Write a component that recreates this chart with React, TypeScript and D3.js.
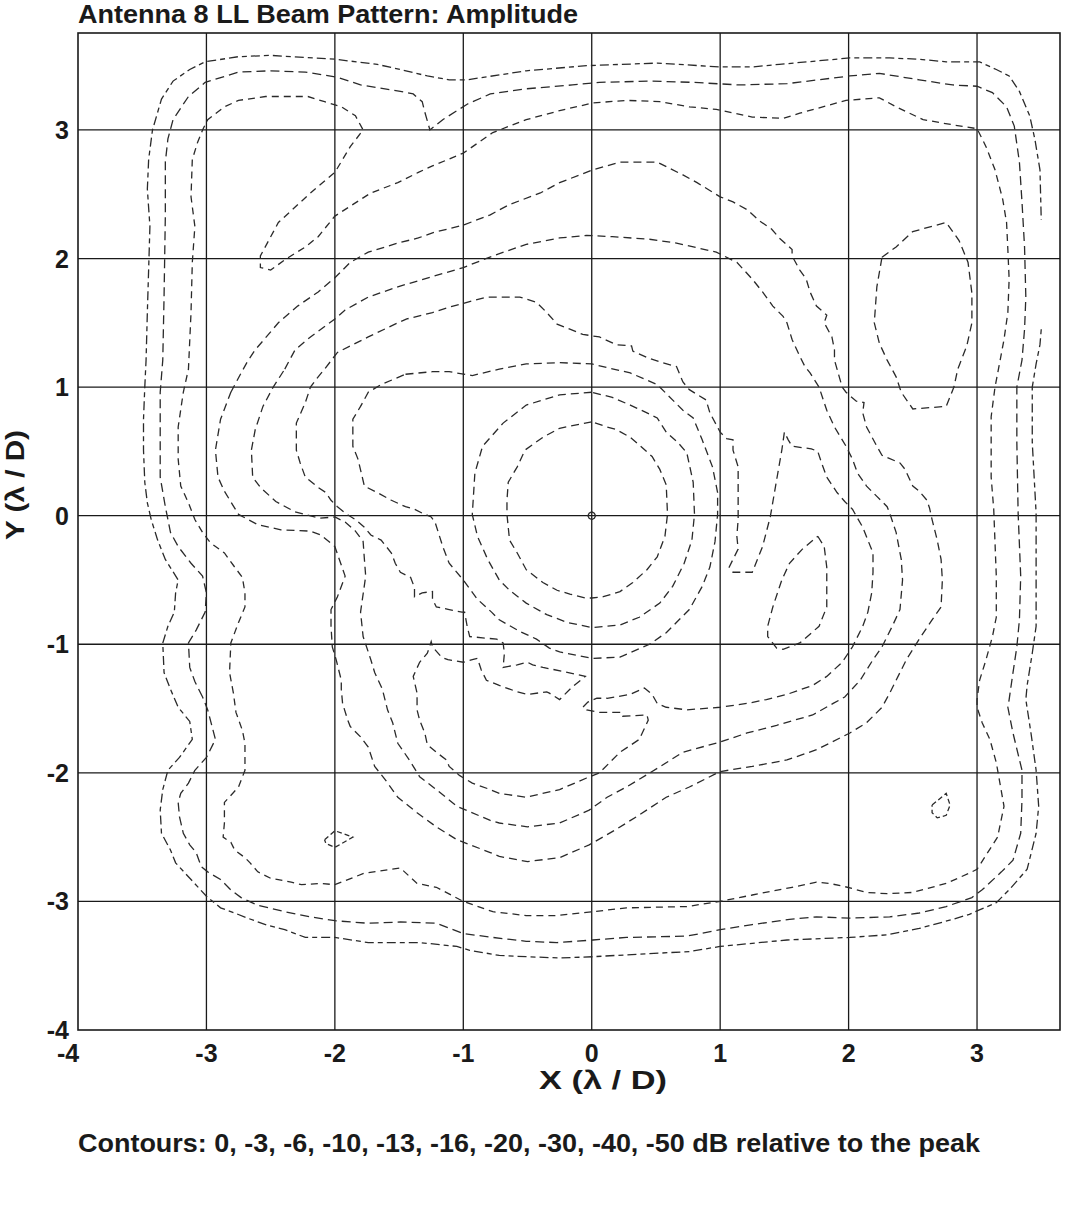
import { useEffect, useRef } from 'react';
import * as d3 from 'd3';

type Pt = [number, number];

const TITLE = 'Antenna 8 LL Beam Pattern: Amplitude';
const CAPTION = 'Contours: 0, -3, -6, -10, -13, -16, -20, -30, -40, -50 dB relative to the peak';
const X_TICKS = [-4, -3, -2, -1, 0, 1, 2, 3];
const Y_TICKS = [-4, -3, -2, -1, 0, 1, 2, 3];
const X_DOMAIN: Pt = [-4, 3.646];
const Y_DOMAIN: Pt = [-4, 3.754];

// contour lines, in lambda/D units
const peak0: Pt[] = [[0.03, 0], [0.02, 0.02], [0, 0.03], [-0.02, 0.02], [-0.03, 0], [-0.02, -0.02], [0, -0.03], [0.02, -0.02]];

const ring3: Pt[] = [[0.00, 0.73], [-0.25, 0.68], [-0.38, 0.61], [-0.52, 0.51], [-0.58, 0.38], [-0.65, 0.26], [-0.66, 0.12], [-0.66, 0.01], [-0.64, -0.19], [-0.58, -0.29], [-0.51, -0.42], [-0.38, -0.52], [-0.27, -0.58], [-0.17, -0.61], [-0.05, -0.64], [0.00, -0.64], [0.09, -0.63], [0.22, -0.59], [0.32, -0.52], [0.43, -0.42], [0.51, -0.32], [0.57, -0.16], [0.59, 0.01], [0.58, 0.24], [0.53, 0.36], [0.47, 0.46], [0.37, 0.55], [0.30, 0.61], [0.19, 0.67], [0.12, 0.69]];

const ring6: Pt[] = [[0.00, 0.96], [-0.25, 0.94], [-0.51, 0.86], [-0.69, 0.72], [-0.85, 0.54], [-0.91, 0.33], [-0.93, 0.01], [-0.89, -0.16], [-0.81, -0.34], [-0.72, -0.50], [-0.64, -0.58], [-0.51, -0.68], [-0.35, -0.77], [-0.19, -0.83], [0.00, -0.87], [0.22, -0.85], [0.37, -0.79], [0.53, -0.68], [0.63, -0.55], [0.72, -0.37], [0.78, -0.19], [0.80, 0.01], [0.79, 0.26], [0.74, 0.49], [0.67, 0.57], [0.58, 0.65], [0.51, 0.76], [0.43, 0.80], [0.30, 0.86], [0.16, 0.92]];

const ring10: Pt[] = [[-1.45, 1.10], [-1.24, 1.12], [-1.11, 1.12], [-0.93, 1.09], [-0.72, 1.14], [-0.51, 1.18], [-0.25, 1.19], [0.00, 1.18], [0.30, 1.11], [0.51, 1.02], [0.71, 0.82], [0.79, 0.76], [0.86, 0.59], [0.94, 0.38], [0.98, 0.18], [0.98, 0.01], [0.96, -0.20], [0.92, -0.40], [0.86, -0.55], [0.76, -0.73], [0.68, -0.81], [0.58, -0.91], [0.45, -1.00], [0.22, -1.10], [0.01, -1.11], [-0.25, -1.06], [-0.33, -1.03], [-0.43, -0.96], [-0.56, -0.90], [-0.72, -0.81], [-0.78, -0.75], [-0.89, -0.65], [-1.00, -0.50], [-1.11, -0.37], [-1.16, -0.24], [-1.22, -0.05], [-1.25, -0.01], [-1.32, 0.02], [-1.38, 0.05], [-1.45, 0.07], [-1.56, 0.12], [-1.67, 0.18], [-1.77, 0.23], [-1.82, 0.44], [-1.86, 0.54], [-1.86, 0.75], [-1.80, 0.85], [-1.74, 0.96], [-1.64, 1.02]];

const island10: Pt[] = [[1.76, -0.16], [1.81, -0.24], [1.83, -0.40], [1.83, -0.71], [1.77, -0.86], [1.62, -0.99], [1.49, -1.04], [1.44, -1.03], [1.37, -0.94], [1.37, -0.86], [1.41, -0.71], [1.48, -0.50], [1.54, -0.37], [1.64, -0.26]];

const ring13: Pt[] = [[-1.98, 0.07], [-1.92, 0.02], [-1.84, -0.03], [-1.77, -0.09], [-1.72, -0.15], [-1.64, -0.19], [-1.56, -0.29], [-1.53, -0.37], [-1.49, -0.44], [-1.41, -0.48], [-1.38, -0.56], [-1.38, -0.63], [-1.32, -0.60], [-1.24, -0.59], [-1.24, -0.65], [-1.21, -0.71], [-1.11, -0.73], [-1.01, -0.75], [-0.99, -0.75], [-0.97, -0.86], [-0.95, -0.94], [-0.85, -0.95], [-0.74, -0.96], [-0.69, -0.99], [-0.68, -1.07], [-0.69, -1.18], [-0.58, -1.16], [-0.50, -1.14], [-0.46, -1.16], [-0.38, -1.18], [-0.23, -1.21], [-0.05, -1.25], [-0.15, -1.33], [-0.25, -1.43], [-0.33, -1.38], [-0.35, -1.37], [-0.50, -1.39], [-0.58, -1.37], [-0.72, -1.32], [-0.82, -1.28], [-0.86, -1.20], [-0.89, -1.11], [-0.93, -1.12], [-1.00, -1.14], [-1.12, -1.12], [-1.17, -1.10], [-1.24, -1.02], [-1.25, -0.98], [-1.28, -1.07], [-1.34, -1.14], [-1.39, -1.25], [-1.36, -1.38], [-1.36, -1.51], [-1.34, -1.59], [-1.30, -1.69], [-1.28, -1.78], [-1.21, -1.84], [-1.13, -1.90], [-1.11, -1.95], [-1.03, -2.02], [-0.93, -2.08], [-0.79, -2.13], [-0.72, -2.16], [-0.51, -2.19], [-0.25, -2.13], [-0.04, -2.04], [0.06, -2.00], [0.22, -1.84], [0.37, -1.74], [0.44, -1.59], [0.43, -1.55], [0.24, -1.56], [0.23, -1.53], [0.06, -1.53], [-0.04, -1.51], [-0.07, -1.49], [-0.03, -1.45], [0.04, -1.42], [0.12, -1.42], [0.30, -1.39], [0.41, -1.34], [0.47, -1.39], [0.51, -1.46], [0.58, -1.49], [0.74, -1.51], [1.00, -1.49], [1.21, -1.46], [1.36, -1.43], [1.52, -1.39], [1.72, -1.32], [1.83, -1.25], [1.95, -1.14], [2.03, -1.02], [2.11, -0.86], [2.15, -0.75], [2.18, -0.60], [2.19, -0.44], [2.19, -0.29], [2.15, -0.19], [2.11, -0.09], [2.03, 0.05], [1.97, 0.11], [1.91, 0.18], [1.83, 0.30], [1.79, 0.41], [1.76, 0.50], [1.71, 0.52], [1.56, 0.54], [1.53, 0.59], [1.50, 0.65], [1.48, 0.51], [1.44, 0.28], [1.39, -0.01], [1.33, -0.24], [1.25, -0.44], [1.10, -0.44], [1.07, -0.40], [1.14, -0.26], [1.13, -0.16], [1.14, -0.03], [1.14, 0.07], [1.14, 0.38], [1.10, 0.51], [1.10, 0.59], [1.05, 0.60], [1.00, 0.65], [0.92, 0.80], [0.89, 0.90], [0.76, 0.98], [0.71, 1.04], [0.66, 1.16], [0.55, 1.19], [0.43, 1.23], [0.32, 1.28], [0.31, 1.32], [0.19, 1.33], [0.06, 1.39], [-0.07, 1.41], [-0.27, 1.49], [-0.35, 1.58], [-0.43, 1.66], [-0.56, 1.70], [-0.82, 1.70], [-1.08, 1.63], [-1.24, 1.58], [-1.44, 1.53], [-1.51, 1.50], [-1.74, 1.39], [-1.98, 1.27], [-2.08, 1.14], [-2.13, 1.08], [-2.19, 1.00], [-2.23, 0.88], [-2.30, 0.72], [-2.30, 0.51], [-2.27, 0.41], [-2.23, 0.30], [-2.13, 0.22], [-2.07, 0.18], [-2.03, 0.12]];

const ring16: Pt[] = [[-2.39, 1.14], [-2.31, 1.29], [-2.19, 1.39], [-2.00, 1.53], [-1.92, 1.60], [-1.74, 1.70], [-1.51, 1.78], [-1.24, 1.86], [-1.00, 1.93], [-0.77, 2.02], [-0.51, 2.11], [-0.25, 2.16], [-0.04, 2.18], [0.16, 2.17], [0.45, 2.15], [0.66, 2.12], [0.97, 2.05], [1.13, 1.97], [1.25, 1.84], [1.33, 1.74], [1.41, 1.63], [1.49, 1.55], [1.52, 1.50], [1.56, 1.37], [1.62, 1.24], [1.66, 1.16], [1.70, 1.11], [1.77, 1.00], [1.83, 0.82], [1.89, 0.69], [1.98, 0.54], [2.03, 0.44], [2.07, 0.33], [2.14, 0.23], [2.22, 0.15], [2.30, 0.07], [2.32, 0.02], [2.37, -0.13], [2.41, -0.34], [2.42, -0.50], [2.40, -0.73], [2.34, -0.86], [2.26, -1.02], [2.19, -1.12], [2.09, -1.28], [1.97, -1.41], [1.88, -1.46], [1.72, -1.55], [1.44, -1.63], [1.21, -1.69], [1.00, -1.76], [0.71, -1.84], [0.47, -1.99], [0.27, -2.11], [0.12, -2.19], [-0.02, -2.29], [-0.25, -2.39], [-0.50, -2.42], [-0.72, -2.39], [-0.79, -2.37], [-1.05, -2.26], [-1.21, -2.13], [-1.34, -2.03], [-1.42, -1.90], [-1.51, -1.77], [-1.55, -1.61], [-1.59, -1.51], [-1.63, -1.35], [-1.69, -1.22], [-1.72, -1.12], [-1.78, -0.94], [-1.80, -0.75], [-1.76, -0.47], [-1.77, -0.34], [-1.78, -0.20], [-1.84, -0.12], [-1.92, -0.05], [-2.00, -0.01], [-2.12, -0.02], [-2.23, 0.01], [-2.31, 0.03], [-2.46, 0.11], [-2.58, 0.22], [-2.64, 0.30], [-2.65, 0.51], [-2.62, 0.67], [-2.56, 0.85], [-2.48, 1.00]];

const ring20: Pt[] = [[-2.81, 0.96], [-2.73, 1.11], [-2.68, 1.20], [-2.62, 1.29], [-2.44, 1.50], [-2.29, 1.63], [-2.13, 1.74], [-2.00, 1.85], [-1.88, 1.97], [-1.74, 2.05], [-1.51, 2.12], [-1.35, 2.16], [-1.24, 2.20], [-1.00, 2.26], [-0.79, 2.34], [-0.64, 2.42], [-0.40, 2.51], [-0.25, 2.59], [0.01, 2.69], [0.22, 2.75], [0.51, 2.75], [0.71, 2.65], [0.82, 2.59], [1.00, 2.48], [1.10, 2.44], [1.21, 2.38], [1.31, 2.29], [1.40, 2.23], [1.46, 2.16], [1.56, 2.07], [1.56, 2.02], [1.62, 1.91], [1.67, 1.84], [1.70, 1.74], [1.75, 1.63], [1.83, 1.56], [1.81, 1.50], [1.87, 1.39], [1.89, 1.29], [1.89, 1.21], [1.95, 1.00], [1.98, 0.96], [2.06, 0.89], [2.12, 0.88], [2.11, 0.80], [2.14, 0.69], [2.22, 0.54], [2.26, 0.47], [2.40, 0.41], [2.44, 0.36], [2.50, 0.23], [2.55, 0.19], [2.61, 0.12], [2.63, 0.06], [2.65, -0.03], [2.69, -0.19], [2.72, -0.34], [2.73, -0.50], [2.72, -0.71], [2.65, -0.81], [2.55, -0.96], [2.45, -1.12], [2.37, -1.28], [2.32, -1.38], [2.26, -1.49], [2.14, -1.61], [2.01, -1.69], [1.75, -1.82], [1.52, -1.90], [1.25, -1.95], [1.00, -1.99], [0.76, -2.11], [0.58, -2.19], [0.35, -2.34], [0.19, -2.44], [-0.02, -2.56], [-0.25, -2.66], [-0.50, -2.69], [-0.72, -2.65], [-0.79, -2.62], [-1.05, -2.52], [-1.21, -2.42], [-1.36, -2.31], [-1.41, -2.27], [-1.51, -2.19], [-1.61, -2.05], [-1.69, -1.95], [-1.74, -1.80], [-1.80, -1.72], [-1.88, -1.64], [-1.90, -1.59], [-1.94, -1.46], [-1.95, -1.35], [-1.95, -1.28], [-1.99, -1.12], [-2.02, -1.02], [-2.03, -0.86], [-2.03, -0.73], [-1.98, -0.63], [-1.92, -0.47], [-2.00, -0.24], [-2.11, -0.15], [-2.19, -0.12], [-2.42, -0.11], [-2.60, -0.07], [-2.75, 0.01], [-2.86, 0.19], [-2.91, 0.30], [-2.93, 0.51], [-2.89, 0.75]];

const island20: Pt[] = [[2.26, 2.01], [2.37, 2.09], [2.50, 2.21], [2.76, 2.28], [2.86, 2.14], [2.93, 1.97], [2.96, 1.73], [2.96, 1.50], [2.92, 1.32], [2.85, 1.14], [2.82, 1.00], [2.76, 0.85], [2.50, 0.83], [2.41, 0.96], [2.37, 1.08], [2.30, 1.21], [2.24, 1.34], [2.20, 1.50], [2.22, 1.78]];

const ring30: Pt[] = [[-2.79, -1.38], [-2.82, -1.22], [-2.81, -0.99], [-2.75, -0.83], [-2.70, -0.71], [-2.70, -0.60], [-2.72, -0.48], [-2.78, -0.40], [-2.86, -0.29], [-2.97, -0.21], [-3.03, -0.13], [-3.09, -0.03], [-3.14, 0.10], [-3.20, 0.23], [-3.22, 0.44], [-3.22, 0.69], [-3.18, 0.96], [-3.14, 1.14], [-3.12, 1.58], [-3.11, 1.97], [-3.09, 2.25], [-3.12, 2.48], [-3.11, 2.77], [-3.07, 2.90], [-3.03, 3.00], [-2.99, 3.08], [-2.86, 3.18], [-2.75, 3.23], [-2.54, 3.26], [-2.21, 3.26], [-2.08, 3.22], [-1.95, 3.18], [-1.84, 3.11], [-1.78, 3.00], [-1.88, 2.87], [-2.00, 2.67], [-2.19, 2.51], [-2.44, 2.28], [-2.58, 2.02], [-2.58, 1.93], [-2.50, 1.91], [-2.39, 1.99], [-2.23, 2.09], [-2.13, 2.17], [-2.00, 2.33], [-1.72, 2.51], [-1.51, 2.59], [-1.35, 2.67], [-1.24, 2.72], [-1.00, 2.82], [-0.77, 2.98], [-0.51, 3.08], [-0.25, 3.15], [0.01, 3.21], [0.27, 3.23], [0.53, 3.22], [0.76, 3.18], [0.97, 3.16], [1.25, 3.10], [1.49, 3.09], [1.62, 3.13], [1.98, 3.23], [2.24, 3.25], [2.37, 3.18], [2.58, 3.08], [2.81, 3.04], [3.00, 3.01], [3.07, 2.87], [3.14, 2.69], [3.20, 2.46], [3.23, 2.28], [3.24, 2.07], [3.25, 1.84], [3.24, 1.58], [3.21, 1.37], [3.18, 1.21], [3.14, 1.00], [3.11, 0.77], [3.11, 0.30], [3.13, 0.05], [3.14, -0.21], [3.15, -0.47], [3.15, -0.79], [3.12, -0.94], [3.07, -1.12], [3.02, -1.28], [3.00, -1.43], [3.00, -1.49], [3.04, -1.61], [3.10, -1.74], [3.15, -1.92], [3.21, -2.26], [3.16, -2.50], [3.00, -2.75], [2.94, -2.78], [2.76, -2.86], [2.50, -2.93], [2.30, -2.94], [2.14, -2.93], [2.03, -2.90], [1.95, -2.88], [1.85, -2.86], [1.75, -2.85], [1.56, -2.89], [1.25, -2.95], [1.00, -3.00], [0.74, -3.04], [0.27, -3.05], [0.01, -3.08], [-0.27, -3.11], [-0.51, -3.11], [-0.77, -3.08], [-1.00, -3.00], [-1.21, -2.89], [-1.36, -2.86], [-1.49, -2.74], [-1.77, -2.78], [-2.00, -2.87], [-2.11, -2.86], [-2.26, -2.87], [-2.34, -2.85], [-2.50, -2.82], [-2.60, -2.77], [-2.66, -2.70], [-2.70, -2.66], [-2.78, -2.60], [-2.81, -2.54], [-2.87, -2.50], [-2.86, -2.39], [-2.86, -2.23], [-2.75, -2.11], [-2.70, -1.98], [-2.70, -1.77], [-2.72, -1.67], [-2.77, -1.53]];

const islandSW: Pt[] = [[-2.08, -2.52], [-2.00, -2.45], [-1.86, -2.50], [-2.00, -2.58], [-2.07, -2.55]];
const islandSE: Pt[] = [[2.65, -2.25], [2.76, -2.16], [2.79, -2.25], [2.76, -2.33], [2.69, -2.35], [2.65, -2.31]];

const ring40: Pt[] = [[-3.03, -1.41], [-3.09, -1.29], [-3.13, -1.18], [-3.14, -0.99], [-3.08, -0.89], [-3.01, -0.75], [-3.00, -0.60], [-3.03, -0.47], [-3.12, -0.37], [-3.22, -0.24], [-3.28, -0.13], [-3.32, 0.07], [-3.36, 0.30], [-3.36, 0.96], [-3.34, 1.21], [-3.33, 1.70], [-3.32, 2.33], [-3.32, 2.75], [-3.30, 2.93], [-3.26, 3.08], [-3.14, 3.26], [-3.01, 3.37], [-2.75, 3.45], [-2.50, 3.46], [-2.23, 3.45], [-1.98, 3.41], [-1.80, 3.35], [-1.49, 3.30], [-1.39, 3.28], [-1.32, 3.22], [-1.30, 3.14], [-1.26, 3.00], [-1.16, 3.08], [-0.97, 3.20], [-0.79, 3.28], [-0.51, 3.32], [-0.15, 3.35], [0.06, 3.37], [0.45, 3.38], [0.79, 3.37], [1.15, 3.35], [1.52, 3.36], [2.01, 3.42], [2.24, 3.44], [2.55, 3.39], [2.81, 3.35], [3.00, 3.34], [3.12, 3.29], [3.23, 3.18], [3.29, 3.03], [3.33, 2.75], [3.35, 2.44], [3.37, 2.09], [3.38, 1.70], [3.37, 1.45], [3.35, 1.21], [3.31, 1.00], [3.31, 0.57], [3.32, 0.02], [3.34, -0.47], [3.33, -0.81], [3.31, -1.02], [3.28, -1.22], [3.25, -1.43], [3.24, -1.49], [3.28, -1.69], [3.35, -1.98], [3.35, -2.21], [3.34, -2.47], [3.28, -2.68], [3.19, -2.77], [3.04, -2.91], [2.96, -2.97], [2.76, -3.04], [2.55, -3.09], [2.32, -3.12], [2.01, -3.13], [1.75, -3.12], [1.54, -3.14], [1.25, -3.18], [1.00, -3.22], [0.74, -3.27], [0.27, -3.28], [0.01, -3.30], [-0.27, -3.32], [-0.51, -3.31], [-0.77, -3.28], [-1.00, -3.25], [-1.21, -3.17], [-1.49, -3.16], [-1.74, -3.17], [-2.00, -3.15], [-2.19, -3.12], [-2.39, -3.08], [-2.60, -3.03], [-2.73, -2.97], [-2.81, -2.91], [-2.89, -2.83], [-2.99, -2.77], [-3.04, -2.73], [-3.08, -2.62], [-3.13, -2.56], [-3.18, -2.47], [-3.21, -2.34], [-3.22, -2.23], [-3.20, -2.16], [-3.14, -2.08], [-3.09, -1.98], [-3.00, -1.88], [-2.93, -1.74], [-2.99, -1.51]];

// -50 dB runs off the right edge of the measured grid, so it stays open
const edge50: Pt[] = [[3.50, 1.45], [3.49, 1.33], [3.46, 1.18], [3.43, 1.00], [3.43, 0.57], [3.46, 0.02], [3.46, -0.47], [3.46, -0.86], [3.43, -1.07], [3.39, -1.32], [3.38, -1.43], [3.42, -1.69], [3.46, -1.98], [3.48, -2.26], [3.46, -2.47], [3.39, -2.75], [3.25, -2.91], [3.15, -3.01], [2.94, -3.10], [2.81, -3.14], [2.55, -3.21], [2.30, -3.26], [2.01, -3.28], [1.52, -3.30], [1.00, -3.35], [0.76, -3.39], [0.19, -3.42], [0.01, -3.43], [-0.25, -3.44], [-0.51, -3.43], [-0.72, -3.42], [-0.95, -3.38], [-1.05, -3.35], [-1.34, -3.32], [-1.49, -3.32], [-1.74, -3.32], [-2.00, -3.28], [-2.23, -3.28], [-2.39, -3.22], [-2.54, -3.18], [-2.68, -3.13], [-2.78, -3.09], [-2.89, -3.05], [-3.00, -2.96], [-3.12, -2.83], [-3.24, -2.70], [-3.28, -2.60], [-3.35, -2.47], [-3.36, -2.29], [-3.34, -2.13], [-3.30, -1.98], [-3.21, -1.88], [-3.11, -1.74], [-3.13, -1.60], [-3.22, -1.49], [-3.28, -1.35], [-3.33, -1.22], [-3.34, -0.99], [-3.30, -0.86], [-3.25, -0.75], [-3.24, -0.60], [-3.22, -0.50], [-3.32, -0.34], [-3.38, -0.19], [-3.43, -0.03], [-3.46, 0.10], [-3.48, 0.26], [-3.49, 0.51], [-3.49, 0.75], [-3.48, 1.00], [-3.47, 1.21], [-3.46, 1.58], [-3.44, 2.25], [-3.46, 2.54], [-3.45, 2.77], [-3.42, 3.00], [-3.35, 3.24], [-3.26, 3.38], [-3.13, 3.47], [-3.01, 3.53], [-2.75, 3.57], [-2.50, 3.58], [-2.00, 3.55], [-1.67, 3.51], [-1.49, 3.47], [-1.28, 3.42], [-1.11, 3.39], [-0.97, 3.39], [-0.51, 3.46], [-0.04, 3.50], [0.51, 3.52], [1.00, 3.49], [1.25, 3.49], [1.46, 3.51], [2.01, 3.56], [2.32, 3.56], [2.55, 3.55], [2.76, 3.53], [3.02, 3.53], [3.15, 3.47], [3.25, 3.42], [3.33, 3.30], [3.41, 3.11], [3.45, 2.93], [3.49, 2.69], [3.50, 2.30]];

const CONTOURS = [
  { level: 0, pts: peak0, closed: true, dash: null },
  { level: -3, pts: ring3, closed: true, dash: '8,5' },
  { level: -6, pts: ring6, closed: true, dash: '8,5' },
  { level: -10, pts: ring10, closed: true, dash: '8,5' },
  { level: -10, pts: island10, closed: true, dash: '8,5' },
  { level: -13, pts: ring13, closed: true, dash: '8,5' },
  { level: -16, pts: ring16, closed: true, dash: '8,5' },
  { level: -20, pts: ring20, closed: true, dash: '8,5' },
  { level: -20, pts: island20, closed: true, dash: '8,5' },
  { level: -30, pts: ring30, closed: true, dash: '7,5' },
  { level: -30, pts: islandSW, closed: true, dash: '5,3' },
  { level: -30, pts: islandSE, closed: true, dash: '5,3' },
  { level: -40, pts: ring40, closed: true, dash: '9,5' },
  { level: -50, pts: edge50, closed: false, dash: '5,4,9,4' },
];

const FONT = '"Liberation Sans", Arial, Helvetica, sans-serif';

export default function App() {
  const svgRef = useRef<SVGSVGElement | null>(null);

  useEffect(() => {
    if (!svgRef.current) return;
    const W = 1076;
    const H = 1210;
    const M = { left: 78, right: 1060, top: 33, bottom: 1030 };

    const svg = d3.select(svgRef.current);
    svg.selectAll('*').remove();
    svg.attr('width', W).attr('height', H).attr('viewBox', `0 0 ${W} ${H}`);

    svg.append('rect').attr('width', W).attr('height', H).attr('fill', '#fff');

    const x = d3.scaleLinear().domain(X_DOMAIN).range([M.left, M.right]);
    const y = d3.scaleLinear().domain(Y_DOMAIN).range([M.bottom, M.top]);

    svg.append('clipPath').attr('id', 'plot-clip')
      .append('rect')
      .attr('x', M.left).attr('y', M.top)
      .attr('width', M.right - M.left).attr('height', M.bottom - M.top);

    // Grid
    const grid = svg.append('g').attr('stroke', '#1a1a1a').attr('stroke-width', 1.3);
    grid.selectAll('.gx').data(X_TICKS.slice(1)).join('line')
      .attr('x1', d => x(d)).attr('x2', d => x(d))
      .attr('y1', M.top).attr('y2', M.bottom);
    grid.selectAll('.gy').data(Y_TICKS.slice(1)).join('line')
      .attr('class', 'gy')
      .attr('x1', M.left).attr('x2', M.right)
      .attr('y1', d => y(d)).attr('y2', d => y(d));

    // Contours
    const line = d3.line<Pt>().x(d => x(d[0])).y(d => y(d[1]));
    const cg = svg.append('g').attr('clip-path', 'url(#plot-clip)');
    CONTOURS.forEach(c => {
      const path = line(c.closed ? [...c.pts, c.pts[0]] : c.pts);
      cg.append('path')
        .attr('d', path)
        .attr('fill', 'none')
        .attr('stroke', '#2a2a2a')
        .attr('stroke-width', 1.3)
        .attr('stroke-dasharray', c.dash ?? null);
    });

    // Frame
    svg.append('rect')
      .attr('x', M.left).attr('y', M.top)
      .attr('width', M.right - M.left).attr('height', M.bottom - M.top)
      .attr('fill', 'none').attr('stroke', '#1a1a1a').attr('stroke-width', 1.6);

    // Tick labels
    svg.append('g').selectAll('text').data(X_TICKS).join('text')
      .attr('x', d => x(d) - (d === -4 ? 10 : 0))
      .attr('y', M.bottom + 32)
      .attr('text-anchor', 'middle')
      .attr('font-family', FONT).attr('font-weight', 700).attr('font-size', 25)
      .attr('fill', '#1a1a1a')
      .text(d => String(d));

    svg.append('g').selectAll('text').data(Y_TICKS).join('text')
      .attr('x', M.left - 9)
      .attr('y', d => y(d) + 9)
      .attr('text-anchor', 'end')
      .attr('font-family', FONT).attr('font-weight', 700).attr('font-size', 25)
      .attr('fill', '#1a1a1a')
      .text(d => String(d));

    // Titles
    svg.append('text')
      .attr('x', M.left).attr('y', 23)
      .attr('font-family', FONT).attr('font-weight', 700).attr('font-size', 25)
      .attr('textLength', 500).attr('lengthAdjust', 'spacingAndGlyphs')
      .attr('fill', '#1a1a1a')
      .text(TITLE);

    svg.append('text')
      .attr('x', 603).attr('y', 1089)
      .attr('text-anchor', 'middle')
      .attr('font-family', FONT).attr('font-weight', 700).attr('font-size', 25)
      .attr('textLength', 128).attr('lengthAdjust', 'spacingAndGlyphs')
      .attr('fill', '#1a1a1a')
      .text('X (λ / D)');

    svg.append('text')
      .attr('transform', 'translate(24,485) rotate(-90)')
      .attr('text-anchor', 'middle')
      .attr('font-family', FONT).attr('font-weight', 700).attr('font-size', 25)
      .attr('textLength', 110).attr('lengthAdjust', 'spacingAndGlyphs')
      .attr('fill', '#1a1a1a')
      .text('Y (λ / D)');

    svg.append('text')
      .attr('x', M.left).attr('y', 1152)
      .attr('font-family', FONT).attr('font-weight', 700).attr('font-size', 25)
      .attr('textLength', 902).attr('lengthAdjust', 'spacingAndGlyphs')
      .attr('fill', '#1a1a1a')
      .text(CAPTION);
  }, []);

  return (
    <div style={{ position: 'absolute', left: 0, top: 0 }}>
      <svg ref={svgRef} style={{ display: 'block' }} />
    </div>
  );
}
